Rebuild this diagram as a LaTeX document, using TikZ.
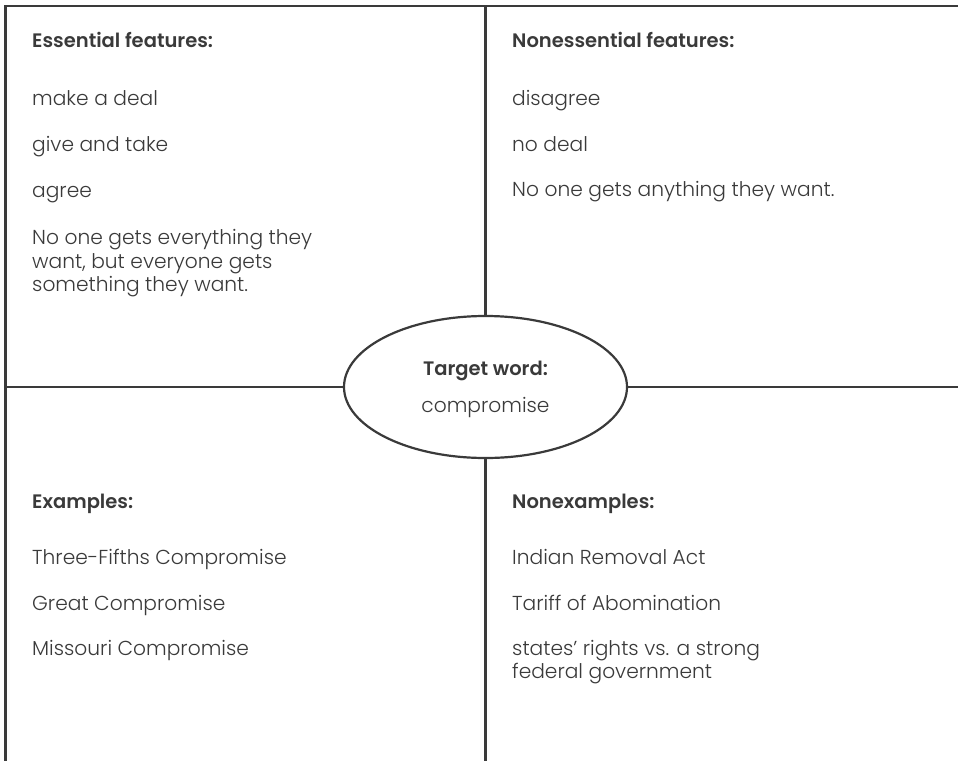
\documentclass[tikz,border=0pt]{standalone}
\usepackage{fontspec}
\setmainfont{Poppins Light}[BoldFont={Poppins SemiBold}]
\usetikzlibrary{shapes.geometric}
\definecolor{inkgray}{HTML}{3A3A3A}
\tikzset{
  rule/.style={draw=inkgray, line width=2.2pt},
  heading/.style={anchor=base west, inner sep=0pt, text=inkgray, font=\fontsize{19.5}{23.3}\selectfont\bfseries},
  entry/.style={anchor=base west, inner sep=0pt, align=left, text=inkgray, font=\fontsize{20.2}{23.3}\selectfont},
  targetbox/.style={ellipse, draw=inkgray, line width=2.2pt, minimum width=283pt, minimum height=142pt, inner sep=0pt}
}
\begin{document}
\begin{tikzpicture}[x=1pt,y=-1pt]
  \useasboundingbox[fill=white] (0,0) rectangle (958,760);
  \clip (0,0) rectangle (958,760);

  % frame and dividers
  \coordinate (frameBL) at (5.5,770);
  \coordinate (frameTL) at (5.5,6);
  \coordinate (frameTR) at (970,6);
  \coordinate (midTop) at (485.5,6);
  \coordinate (midBottom) at (485.5,770);
  \coordinate (midLeft) at (5.5,387);
  \coordinate (midRight) at (970,387);
  \node[targetbox] (target) at (485.5,387) {};

  \draw[rule] (frameBL) -- (frameTL) -- (frameTR);
  \draw[rule] (midTop) -- (target.north); \draw[rule] (target.south) -- (midBottom);
  \draw[rule] (midLeft) -- (target.west); \draw[rule] (target.east) -- (midRight);

  % target word
  \node[heading, anchor=base] (targetHead) at (485.5,375) {Target word:};
  \node[entry, anchor=base] (targetWord) at (485.5,412) {compromise};

  % essential features (multi-line nodes sit on their last line)
  \node[heading] (essHead) at (32,48) {Essential features:};
  \node[entry] (essA) at (32,105) {make a deal};
  \node[entry] (essB) at (32,151) {give and take};
  \node[entry] (essC) at (32,197) {agree};
  \node[entry] (essD) at (32,291.5) {No one gets everything they\\want, but everyone gets\\something they want.};

  % nonessential features
  \node[heading] (nonHead) at (512,48) {Nonessential features:};
  \node[entry] (nonA) at (512,105) {disagree};
  \node[entry] (nonB) at (512,151) {no deal};
  \node[entry] (nonC) at (512,196) {No one gets anything they want.};

  % examples
  \node[heading] (exHead) at (32,508) {Examples:};
  \node[entry] (exA) at (32,564) {Three-Fifths Compromise};
  \node[entry] (exB) at (32,610) {Great Compromise};
  \node[entry] (exC) at (32,655) {Missouri Compromise};

  % nonexamples
  \node[heading] (nexHead) at (512,508) {Nonexamples:};
  \node[entry] (nexA) at (512,564) {Indian Removal Act};
  \node[entry] (nexB) at (512,610) {Tariff of Abomination};
  \node[entry] (nexC) at (512,678.5) {states’ rights vs. a strong\\federal government};
\end{tikzpicture}
\end{document}
